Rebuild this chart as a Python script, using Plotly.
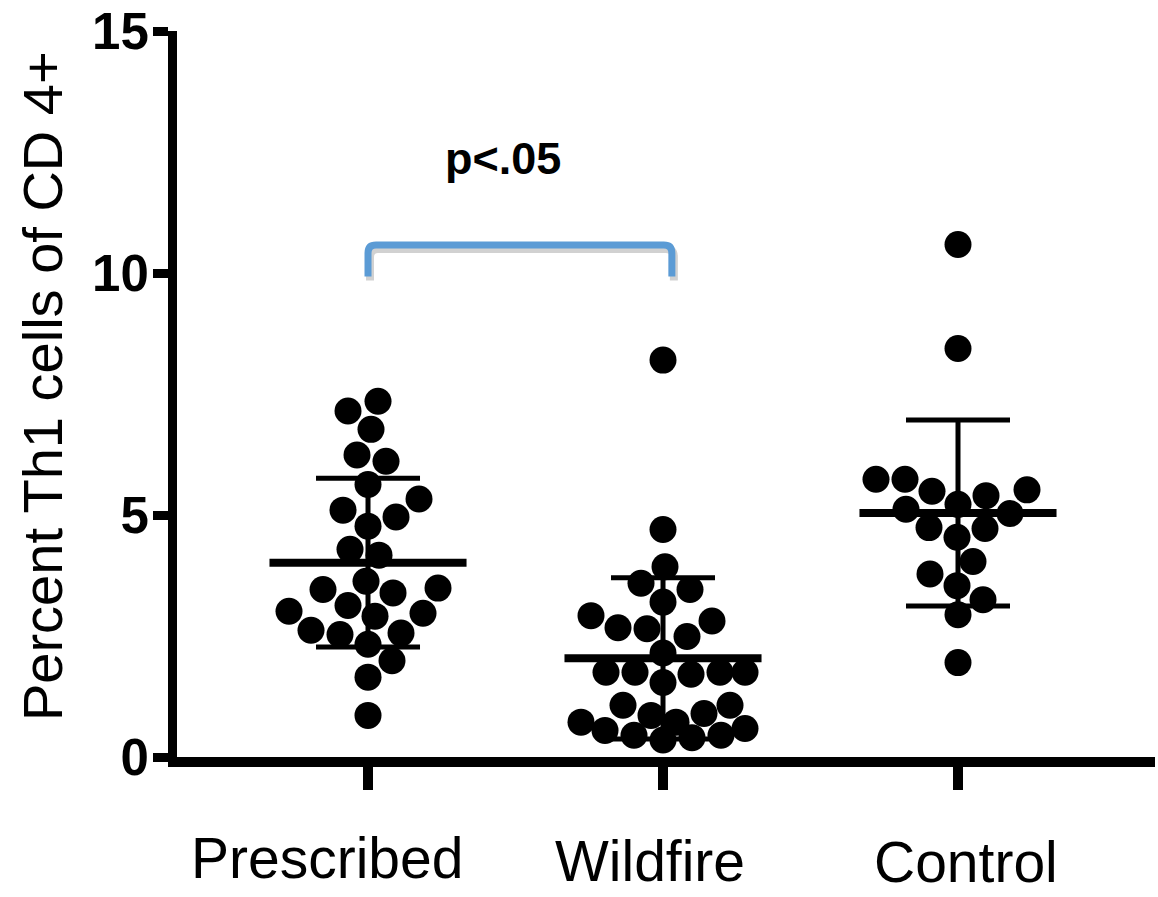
import math
import plotly.graph_objects as go

# ---------------- data ----------------
categories = ["Prescribed", "Wildfire", "Control"]

prescribed = [7.15, 7.35, 6.77, 6.24, 6.11, 5.63, 5.33, 5.10, 4.96, 4.77,
              4.29, 4.17, 3.63, 3.49, 3.39, 3.46, 3.01, 3.13, 2.91, 2.97,
              2.56, 2.62, 2.33, 2.53, 1.99, 1.65, 0.86]

wildfire = [8.20, 4.70, 3.93, 3.59, 3.46, 3.20, 2.92, 2.67, 2.49, 2.65,
            2.81, 2.15, 1.75, 1.75, 1.71, 1.54, 1.75, 1.75, 1.07, 0.86,
            0.72, 0.59, 0.45, 0.35, 0.45, 0.55, 0.72, 0.90, 1.07, 0.40]

control = [10.59, 8.44, 5.52, 5.74, 5.74, 5.49, 5.40, 5.22, 5.12, 5.03,
           4.72, 4.74, 4.54, 4.04, 3.78, 3.54, 3.25, 2.94, 1.95]

groups = [prescribed, wildfire, control]
y_ticks = [0, 5, 10, 15]
y_title = "Percent Th1 cells of CD 4+"
p_label = "p<.05"
compared = (0, 1)  # Prescribed vs Wildfire

# ---------------- layout geometry / style ----------------
W, H = 1158, 897
M_L, M_R, M_T, M_B = 177, 3, 29, 140
X_RANGE = [-0.6475, 2.6678]
Y_RANGE = [0, 15]
PX_X = (W - M_L - M_R) / (X_RANGE[1] - X_RANGE[0])
PX_Y = (H - M_T - M_B) / (Y_RANGE[1] - Y_RANGE[0])
DOT = 27
FONT = "Liberation Sans, Arial, Helvetica, sans-serif"
BLUE = "#5b9bd5"


def swarm_offsets(values, diam, half_width):
    """Beeswarm limited to a band: lowest points first, as close to centre as
    possible; if the band is full, take the least-overlapping spot."""
    order = sorted(range(len(values)), key=lambda i: values[i])
    placed = []
    offs = [0.0] * len(values)
    grid = sorted(range(-half_width, half_width + 1), key=lambda c: (abs(c), -c))
    for i in order:
        y = values[i] * PX_Y
        best, best_d = 0, -1.0
        for c in grid:
            d = min((math.hypot(c - xj, y - yj) for xj, yj in placed), default=1e9)
            if d >= diam:
                best = c
                break
            if d > best_d + 0.5:
                best, best_d = c, d
        offs[i] = best / PX_X
        placed.append((best, y))
    return offs


def mean_sd(v):
    m = sum(v) / len(v)
    sd = math.sqrt(sum((a - m) ** 2 for a in v) / (len(v) - 1))
    return m, sd


fig = go.Figure()

# dots
for gi, vals in enumerate(groups):
    offs = swarm_offsets(vals, 29, 82)
    fig.add_trace(go.Scatter(
        x=[gi + o for o in offs], y=vals, mode="markers",
        marker=dict(size=DOT, color="black", line=dict(width=0)),
        cliponaxis=False, showlegend=False, hoverinfo="y"))

# mean +/- SD
means, sds = zip(*[mean_sd(v) for v in groups])
fig.add_trace(go.Scatter(
    x=list(range(len(groups))), y=list(means), mode="markers",
    marker=dict(size=1, color="rgba(0,0,0,0)"),
    error_y=dict(type="data", array=list(sds), symmetric=True,
                 color="black", thickness=5, width=52),
    cliponaxis=False, showlegend=False, hoverinfo="skip"))
fig.add_trace(go.Scatter(
    x=list(range(len(groups))), y=list(means), mode="markers",
    marker=dict(size=1, color="rgba(0,0,0,0)"),
    error_x=dict(type="constant", value=0.334, symmetric=True,
                 color="black", thickness=8, width=0),
    cliponaxis=False, showlegend=False, hoverinfo="skip"))

# significance bracket
x0, x1 = compared[0], compared[1] + 0.03
yt, yb = 10.58, 9.93
rx, ry = 8 / PX_X, 8 / PX_Y


def bracket_path(dx=0.0, dy=0.0):
    return (f"M {x0+dx},{yb+dy} L {x0+dx},{yt-ry+dy} Q {x0+dx},{yt+dy} {x0+rx+dx},{yt+dy} "
            f"L {x1-rx+dx},{yt+dy} Q {x1+dx},{yt+dy} {x1+dx},{yt-ry+dy} L {x1+dx},{yb+dy}")


fig.add_shape(type="path", xref="x", yref="y",
              path=bracket_path(2 / PX_X, -4 / PX_Y),
              line=dict(color="rgba(0,0,0,0.18)", width=8))
fig.add_shape(type="path", xref="x", yref="y", path=bracket_path(),
              line=dict(color=BLUE, width=7))

annotations = [
    dict(text=p_label, x=0.456, y=12.37, xref="x", yref="y", showarrow=False,
         font=dict(family=FONT, size=45, color="black", weight="bold"),
         xanchor="center", yanchor="middle"),
    dict(text=y_title, x=(42 - M_L) / (W - M_L - M_R), y=(H - M_B - 385) / (H - M_T - M_B),
         xref="paper", yref="paper", showarrow=False, textangle=-90,
         font=dict(family=FONT, size=56, color="black"),
         xanchor="center", yanchor="middle"),
]
label_shift = [(-41, -67), (-13, -70), (8, -71)]
for i, cat in enumerate(categories):
    annotations.append(dict(
        text=cat, x=i, y=0, xref="x", yref="y", showarrow=False,
        xanchor="center", yanchor="top",
        xshift=label_shift[i][0], yshift=label_shift[i][1],
        font=dict(family=FONT, size=57, color="black")))

fig.update_layout(
    width=W, height=H,
    margin=dict(l=M_L, r=M_R, t=M_T, b=M_B, pad=0),
    paper_bgcolor="white", plot_bgcolor="white",
    showlegend=False,
    annotations=annotations,
    xaxis=dict(range=X_RANGE, tickvals=list(range(len(categories))),
               showticklabels=False, ticks="outside", ticklen=23, tickwidth=10,
               tickcolor="black", showline=True, linewidth=10, linecolor="black",
               showgrid=False, zeroline=False, fixedrange=True),
    yaxis=dict(range=Y_RANGE, tickvals=y_ticks, ticks="outside", ticklen=15,
               tickwidth=9, tickcolor="black", showline=True, linewidth=9,
               linecolor="black", showgrid=False, zeroline=False,
               ticklabelstandoff=-6,
               tickfont=dict(family=FONT, size=51, color="black", weight="bold"),
               fixedrange=True),
)

fig.write_html("out.html", config={"displayModeBar": False},
               post_script="document.body.style.margin='0px';document.body.style.overflow='hidden';")
